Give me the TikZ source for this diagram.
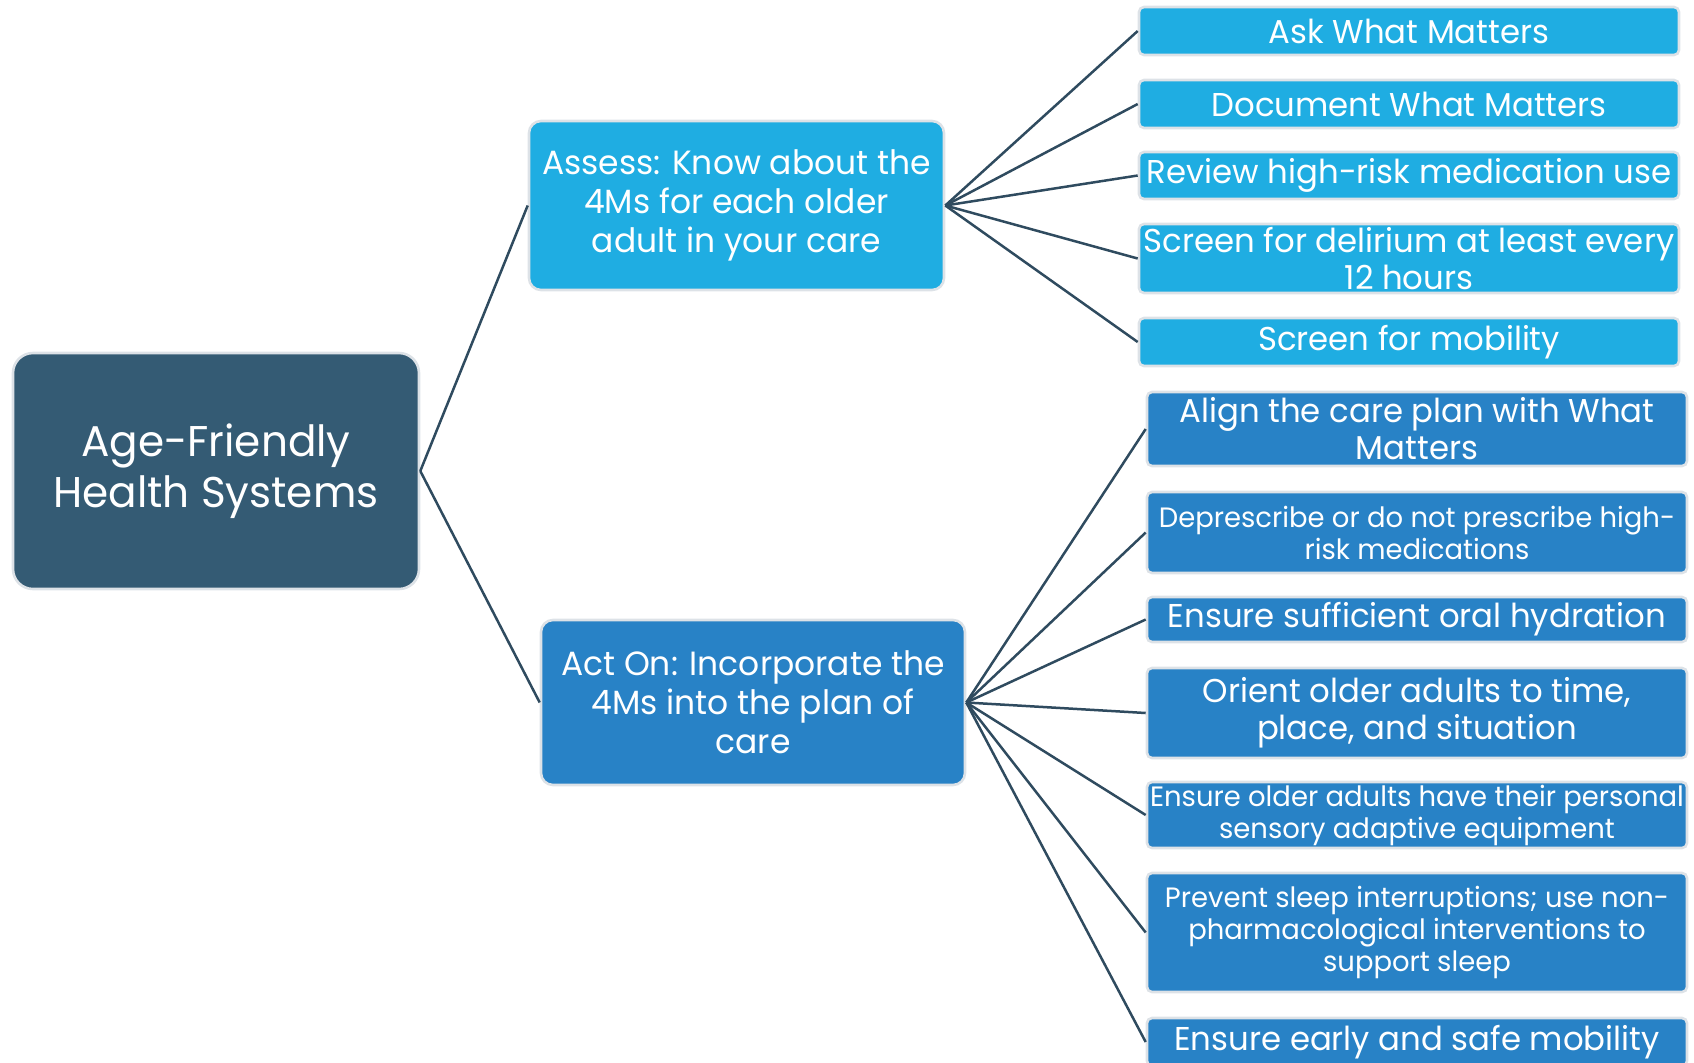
\documentclass[tikz,border=0pt]{standalone}
\usepackage{fontspec}
\setmainfont{Poppins}[FakeStretch=0.98]
\definecolor{rootc}{HTML}{345B74}
\definecolor{cyanc}{HTML}{1FADE2}
\definecolor{bluec}{HTML}{2882C6}
\definecolor{linec}{HTML}{2F4B5F}
\definecolor{edgec}{HTML}{DDE2E7}
\tikzset{
  box/.style={draw=edgec, line width=1.3pt, text=white, align=center, inner sep=0pt},
  rootbox/.style={box, fill=rootc, rounded corners=10pt, font=\fontsize{21.5pt}{25.5pt}\selectfont},
  midbox/.style={box, rounded corners=6pt, font=\fontsize{16.8pt}{19.5pt}\selectfont},
  leafA/.style={box, fill=cyanc, rounded corners=2.5pt, minimum width=270pt, font=\fontsize{16.5pt}{18.5pt}\selectfont},
  leafB/.style={box, fill=bluec, rounded corners=2.5pt, minimum width=270pt, font=\fontsize{16.5pt}{18.5pt}\selectfont},
  small/.style={font=\fontsize{14pt}{16pt}\selectfont},
  conn/.style={draw=linec, line width=1.25pt},
}
\begin{document}
\begin{tikzpicture}[x=0.5pt,y=-0.5pt]
\useasboundingbox (0,0) rectangle (1694,1062);
\clip (0,0) rectangle (1694,1062);
\node[rootbox, minimum width=203pt, minimum height=118pt] (root) at (216,471) {Age-Friendly\\Health Systems};
\node[midbox, fill=cyanc, minimum width=207.5pt, minimum height=84.5pt] (assess) at (736.5,205.5) {Assess: Know about the\\4Ms for each older\\adult in your care};
\node[midbox, fill=bluec, minimum width=212pt, minimum height=82.5pt] (acton) at (753,702.5) {Act On: Incorporate the\\4Ms into the plan of\\care};
% top leaves
\node[leafA, minimum height=24pt] (ask) at (1409,31) {Ask What Matters};
\node[leafA, minimum height=24pt] (doc) at (1409,104) {Document What Matters};
\node[leafA, minimum height=23.5pt] (rev) at (1409,175.5) {Review high-risk medication use};
\node[leafA, minimum height=34.5pt] (del) at (1409,258.5) {Screen for delirium at least every\\12 hours};
\node[leafA, minimum height=24pt] (mob) at (1409,342) {Screen for mobility};
% bottom leaves
\node[leafB, minimum height=37pt] (align) at (1417,429) {Align the care plan with What\\Matters};
\node[leafB, small, minimum height=40.5pt] (depre) at (1417,532.5) {Deprescribe or do not prescribe high-\\risk medications};
\node[leafB, minimum height=22.5pt] (hyd) at (1417,619.5) {Ensure sufficient oral hydration};
\node[leafB, minimum height=45pt] (ori) at (1417,713) {Orient older adults to time,\\place, and situation};
\node[leafB, small, minimum height=33pt] (sens) at (1417,815) {Ensure older adults have their personal\\sensory adaptive equipment};
\node[leafB, small, minimum height=59.5pt] (sleep) at (1417,932.5) {Prevent sleep interruptions; use non-\\pharmacological interventions to\\support sleep};
\node[leafB, minimum height=24pt] (early) at (1417,1042) {Ensure early and safe mobility};
% connectors
\draw[conn] (root.east) -- (assess.west);
\draw[conn] (root.east) -- (acton.west);
\foreach \t in {ask,doc,rev,del,mob} \draw[conn] (assess.east) -- (\t.west);
\foreach \t in {align,depre,hyd,ori,sens,sleep,early} \draw[conn] (acton.east) -- (\t.west);
\end{tikzpicture}
\end{document}
